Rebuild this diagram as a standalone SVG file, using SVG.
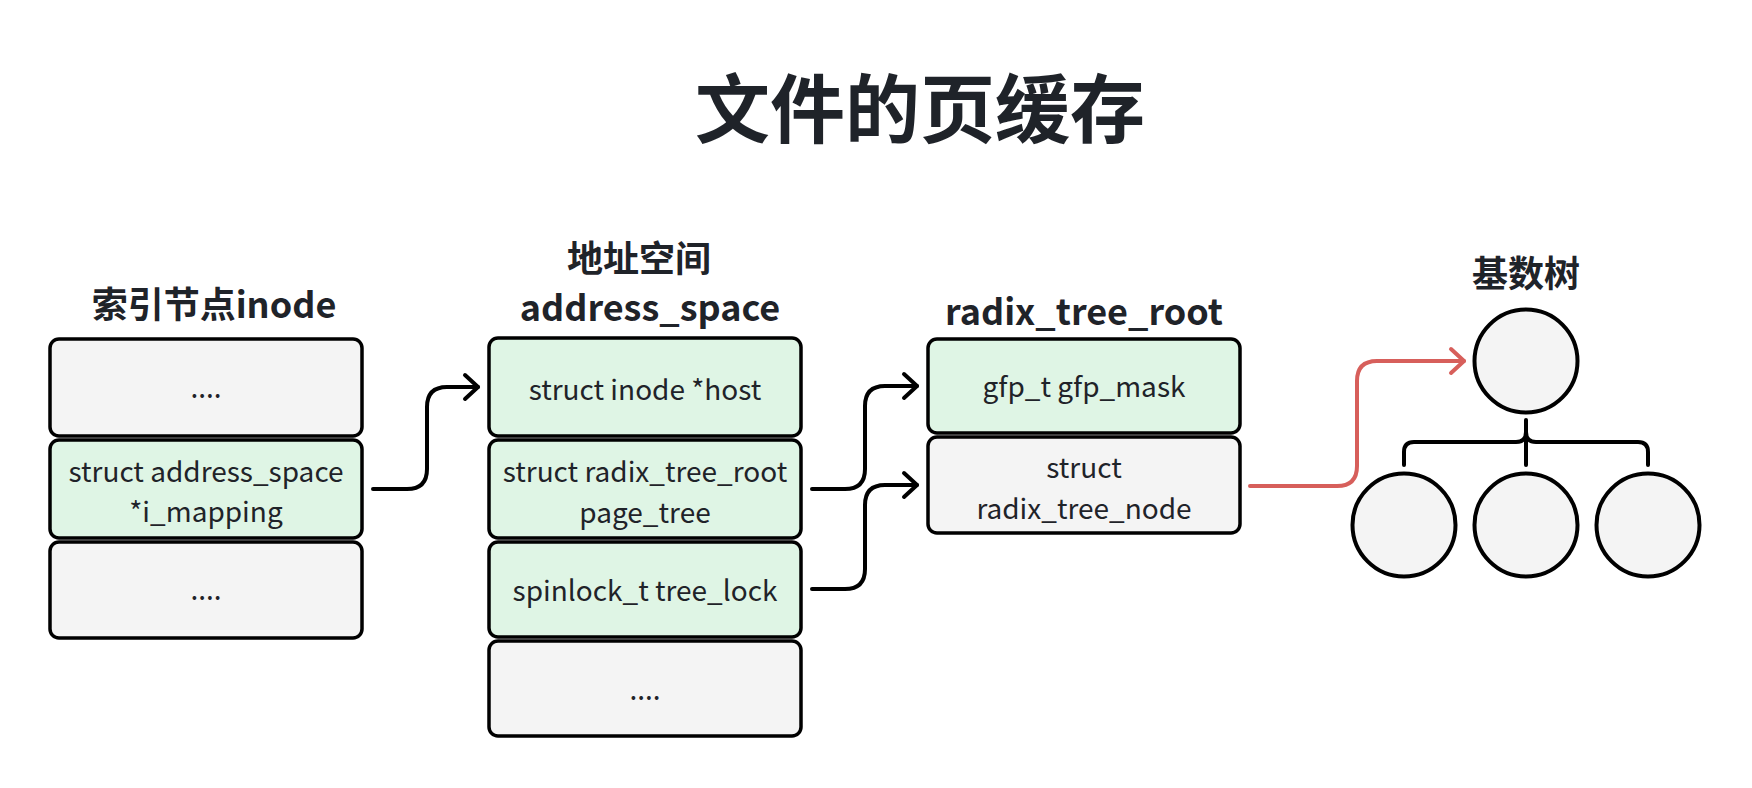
<svg xmlns="http://www.w3.org/2000/svg" width="1752" height="788" viewBox="0 0 1752 788">
<style>
text{font-family:"Noto Sans CJK SC","Noto Sans",sans-serif;fill:#1f2329;text-anchor:middle}
.title{font-size:75px;font-weight:700}
.head{font-size:36px;font-weight:700}
.lbl{font-size:28px}
.g{fill:#dff5e5;stroke:#000;stroke-width:3.5}
.w{fill:#f4f4f4;stroke:#000;stroke-width:3.5}
.c{fill:#f4f4f4;stroke:#000;stroke-width:4}
.ln{fill:none;stroke:#000;stroke-width:4;stroke-linecap:round;stroke-linejoin:round}
.red{fill:none;stroke:#d75f5b;stroke-width:4;stroke-linecap:round;stroke-linejoin:round}
</style>
<defs>
<marker id="ah" markerUnits="userSpaceOnUse" markerWidth="20" markerHeight="30" refX="14" refY="13" orient="auto" overflow="visible">
<path d="M1,1 L14,13 L1,25" fill="none" stroke="#000" stroke-width="4" stroke-linecap="round" stroke-linejoin="round"/>
</marker>
<marker id="ahr" markerUnits="userSpaceOnUse" markerWidth="20" markerHeight="30" refX="14" refY="13" orient="auto" overflow="visible">
<path d="M1,1 L14,13 L1,25" fill="none" stroke="#d75f5b" stroke-width="4" stroke-linecap="round" stroke-linejoin="round"/>
</marker>
</defs>
<text class="title" x="920" y="137">文件的页缓存</text>
<g id="inode">
<text class="head" x="214" y="318">索引节点inode</text>
<rect class="w" x="50" y="339" width="312" height="97" rx="9"/>
<text class="lbl" x="206" y="398">....</text>
<rect class="g" x="50" y="440" width="312" height="98" rx="9"/>
<text class="lbl" x="206" y="482">struct address_space</text>
<text class="lbl" x="206" y="522">*i_mapping</text>
<rect class="w" x="50" y="542" width="312" height="96" rx="9"/>
<text class="lbl" x="206" y="600">....</text>
</g>
<g id="address_space">
<text class="head" x="639" y="272">地址空间</text>
<text class="head" x="650" y="321">address_space</text>
<rect class="g" x="489" y="338" width="312" height="98" rx="9"/>
<text class="lbl" x="645" y="400">struct inode *host</text>
<rect class="g" x="489" y="440" width="312" height="98" rx="9"/>
<text class="lbl" x="645" y="482">struct radix_tree_root</text>
<text class="lbl" x="645" y="523">page_tree</text>
<rect class="g" x="489" y="542" width="312" height="95" rx="9"/>
<text class="lbl" x="645" y="601">spinlock_t tree_lock</text>
<rect class="w" x="489" y="641" width="312" height="95" rx="9"/>
<text class="lbl" x="645" y="700">....</text>
</g>
<g id="radix_tree_root">
<text class="head" x="1084" y="325">radix_tree_root</text>
<rect class="g" x="928" y="339" width="312" height="94" rx="9"/>
<text class="lbl" x="1084" y="397">gfp_t gfp_mask</text>
<rect class="w" x="928" y="437" width="312" height="96" rx="9"/>
<text class="lbl" x="1084" y="478">struct</text>
<text class="lbl" x="1084" y="519">radix_tree_node</text>
</g>
<g id="radix_tree">
<text class="head" x="1526" y="287">基数树</text>
<circle class="c" cx="1526" cy="361" r="51.5"/>
<circle class="c" cx="1404" cy="525" r="51.5"/>
<circle class="c" cx="1526" cy="525" r="51.5"/>
<circle class="c" cx="1648" cy="525" r="51.5"/>
</g>
<g id="connectors">
<path class="ln" d="M373,489 H407 Q427,489 427,469 V407 Q427,387 447,387 H478" marker-end="url(#ah)"/>
<path class="ln" d="M812,489 H845 Q865,489 865,469 V406 Q865,386 885,386 H917" marker-end="url(#ah)"/>
<path class="ln" d="M812,589 H845 Q865,589 865,569 V505 Q865,485 885,485 H917" marker-end="url(#ah)"/>
<path class="red" d="M1250,486 H1337 Q1357,486 1357,466 V381 Q1357,361 1377,361 H1464" marker-end="url(#ahr)"/>
<path class="ln" d="M1526,420 V465"/>
<path class="ln" d="M1404,465 V452 Q1404,442 1414,442 H1516 Q1526,442 1526,432"/>
<path class="ln" d="M1648,465 V452 Q1648,442 1638,442 H1536 Q1526,442 1526,432"/>
</g>
</svg>
